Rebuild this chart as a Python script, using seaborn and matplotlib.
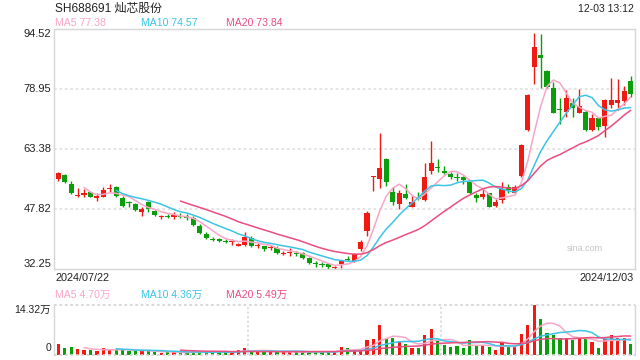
import numpy as np
import pandas as pd
import matplotlib
matplotlib.use("Agg")
import matplotlib.pyplot as plt
import seaborn as sns

# daily candles SH688691, 2024/07/22 .. 2024/12/03
opens = [55.59, 56.71, 54.45, 51.18, 51.60, 52.22, 50.82, 51.08, 53.09, 53.52,
         50.74, 49.53, 49.18, 47.18, 49.62, 47.44, 45.81, 46.00, 45.90, 46.10,
         46.00, 45.60, 43.50, 41.40, 40.20, 40.20, 39.70, 39.25, 38.30, 38.55,
         40.40, 38.20, 38.30, 37.70, 37.90, 36.30, 36.40, 36.50, 36.35, 35.20,
         33.90, 33.50, 33.50, 32.70, 33.60, 34.80, 34.50, 37.60, 42.10, 56.30,
         55.60, 60.78, 52.30, 49.10, 51.80, 48.50, 50.74, 50.22, 57.67, 58.90,
         57.70, 57.05, 56.10, 56.30, 54.97, 51.60, 51.08, 51.96, 48.66, 50.22,
         53.50, 51.96, 56.53, 68.39, 84.81, 87.85, 83.62, 79.20, 73.90, 73.13,
         75.30, 72.87, 73.00, 68.40, 71.40, 69.50, 74.87, 75.47, 75.90, 81.10]
highs = [57.56, 56.89, 55.07, 53.26, 53.00, 52.40, 52.10, 53.50, 54.37, 53.80,
         51.26, 49.96, 49.50, 48.48, 50.00, 47.60, 46.30, 46.50, 47.20, 46.90,
         46.50, 46.00, 43.90, 41.80, 40.70, 40.50, 40.00, 40.00, 39.20, 41.80,
         40.90, 39.20, 38.40, 38.50, 38.20, 37.00, 37.70, 37.00, 36.70, 35.40,
         34.50, 34.10, 33.80, 33.20, 34.70, 35.80, 36.50, 39.85, 47.30, 56.50,
         67.50, 61.20, 53.67, 52.80, 54.40, 51.26, 52.20, 59.74, 65.53, 60.86,
         59.10, 57.60, 57.15, 56.45, 55.23, 52.10, 53.00, 52.10, 50.40, 54.90,
         54.37, 54.10, 64.83, 77.80, 93.48, 93.30, 83.96, 80.76, 76.60, 78.76,
         76.60, 78.95, 73.60, 72.50, 71.68, 76.43, 81.80, 81.62, 79.80, 82.40]
lows = [55.23, 54.71, 51.77, 51.10, 51.08, 50.90, 49.88, 50.92, 52.37, 51.10,
        48.48, 48.48, 47.40, 45.99, 47.10, 46.20, 45.40, 45.60, 45.20, 45.50,
        45.10, 43.40, 41.40, 40.10, 39.50, 39.30, 39.10, 38.50, 38.20, 38.30,
        38.10, 37.90, 37.10, 37.20, 36.30, 36.00, 35.80, 35.80, 35.00, 33.50,
        32.90, 32.90, 32.40, 32.20, 32.60, 34.30, 34.10, 37.06, 40.96, 52.60,
        53.40, 53.86, 48.90, 47.90, 50.40, 48.50, 50.20, 50.04, 56.90, 57.40,
        57.05, 55.67, 55.20, 54.45, 51.78, 49.78, 50.56, 48.30, 48.48, 49.50,
        52.10, 51.70, 56.27, 68.20, 80.32, 79.20, 79.20, 72.72, 69.90, 71.68,
        71.80, 72.87, 68.10, 68.10, 68.50, 66.65, 74.00, 73.58, 74.87, 77.00]
closes = [57.15, 54.97, 52.11, 51.34, 51.96, 51.08, 51.34, 52.81, 53.26, 51.34,
          48.74, 49.36, 47.70, 47.88, 47.80, 46.40, 46.07, 45.80, 46.30, 45.70,
          45.60, 43.80, 41.70, 40.40, 39.90, 39.70, 39.40, 39.50, 38.70, 40.60,
          38.35, 38.35, 37.50, 37.90, 36.55, 36.55, 36.55, 36.20, 35.30, 33.80,
          33.50, 33.30, 32.80, 32.90, 34.50, 34.60, 36.30, 39.30, 46.77, 56.50,
          58.50, 54.97, 49.78, 51.96, 50.80, 49.60, 50.50, 56.19, 59.90, 58.60,
          57.30, 56.20, 55.85, 55.40, 51.96, 50.80, 51.78, 48.48, 49.62, 53.07,
          52.80, 53.52, 64.49, 77.47, 89.92, 86.99, 79.62, 72.87, 73.60, 76.61,
          74.00, 74.60, 68.40, 71.40, 69.10, 76.17, 76.09, 76.09, 78.50, 77.73]
# volume, in 万
volumes = [3.15, 2.00, 2.29, 1.72, 1.43, 1.43, 1.15, 2.00, 1.43, 1.43,
           1.63, 1.15, 1.15, 1.15, 1.15, 0.86, 0.57, 0.86, 0.86, 0.57,
           0.57, 0.86, 0.86, 0.86, 1.15, 0.95, 0.86, 0.57, 1.43, 2.00,
           1.15, 1.15, 0.86, 1.15, 0.86, 0.86, 0.86, 0.86, 0.86, 0.86,
           0.86, 0.95, 0.95, 0.95, 2.29, 2.00, 1.43, 1.43, 4.30, 4.58,
           8.59, 4.58, 4.87, 3.81, 3.15, 2.00, 2.00, 5.73, 7.45, 4.01,
           2.86, 2.29, 2.58, 2.00, 4.30, 2.58, 2.58, 2.29, 1.43, 3.72,
           2.29, 2.29, 6.01, 8.59, 14.32, 10.31, 6.30, 5.73, 4.87, 4.87,
           4.30, 4.87, 4.87, 3.72, 2.00, 4.58, 5.73, 4.87, 4.87, 3.15]

price_ticks = [94.52, 78.95, 63.38, 47.82, 32.25]
vol_max = 14.32
start_date, end_date = "2024/07/22", "2024/12/03"
title = "SH688691 灿芯股份"
stamp = "12-03 13:12"
ma_labels = ["MA5 77.38", "MA10 74.57", "MA20 73.84"]
vol_ma_labels = ["MA5 4.70万", "MA10 4.36万", "MA20 5.49万"]

RED, GREEN = "#f01a12", "#0a9e0a"
MA_COLORS = ["#f8a6c6", "#3cc4e6", "#ea4d7f"]
FRAME = "#d6d6d6"
GRID = "#e2e2e2"

sns.set_theme(style="white")
plt.rcParams["font.family"] = ["Liberation Sans", "Noto Sans CJK SC", "DejaVu Sans"]

df = pd.DataFrame({"open": opens, "high": highs, "low": lows,
                   "close": closes, "vol": volumes})
df["idx"] = np.arange(len(df))
df["up"] = df["close"] >= df["open"]
df["color"] = np.where(df["up"], RED, GREEN)
for n in (5, 10, 20):
    df[f"ma{n}"] = df["close"].rolling(n).mean()
    df[f"vma{n}"] = df["vol"].rolling(n).mean()

W, H = 640, 360
fig = plt.figure(figsize=(6.4, 3.6), dpi=100)


def box(l, t, r, b):
    return [l / W, 1 - b / H, (r - l) / W, (b - t) / H]


ax = fig.add_axes(box(54, 29.3, 634.5, 269.3))
axv = fig.add_axes(box(54, 305, 634.5, 355))
xlim = (-0.67, 89.6)

# price panel
ax.vlines(df["idx"], df["low"], df["high"], colors=df["color"], lw=1, zorder=2)
body = (df["close"] - df["open"]).abs().clip(lower=0.26)
ax.bar(df["idx"], body, bottom=df[["open", "close"]].min(axis=1),
       width=0.8, color=df["color"], linewidth=0, zorder=3)
for n, c in zip((5, 10, 20), MA_COLORS):
    sns.lineplot(data=df, x="idx", y=f"ma{n}", ax=ax, color=c, lw=1.1,
                 estimator=None, sort=False, zorder=4)
for v in price_ticks[1:-1]:
    ax.axhline(v, color=GRID, lw=1.3, ls=(0, (1.5, 1.5)), zorder=0)
ax.set_xlim(*xlim)
ax.set_ylim(price_ticks[-1], price_ticks[0])
ax.set_xticks([])
ax.set_yticks([])
ax.set_xlabel("")
ax.set_ylabel("")
for s in ax.spines.values():
    s.set_visible(True)
    s.set_color(FRAME)
    s.set_linewidth(1)

ytr = ax.get_yaxis_transform()
for i, v in enumerate(price_ticks):
    va = "top" if i == 0 else ("bottom" if i == len(price_ticks) - 1 else "center")
    ax.text(-0.005, v, f"{v:.2f}", transform=ytr, ha="right", va=va,
            fontsize=8, color="#222222")
ax.text(0.915, 0.085, "sina.com", transform=ax.transAxes, ha="center",
        va="center", fontsize=6.5, color="#c4c4c4")

# volume panel
axv.bar(df["idx"], df["vol"], width=0.5, color=df["color"], linewidth=0, zorder=2)
for n, c in zip((5, 10, 20), MA_COLORS):
    sns.lineplot(data=df, x="idx", y=f"vma{n}", ax=axv, color=c, lw=1.1,
                 estimator=None, sort=False, zorder=3)
axv.set_xlim(*xlim)
axv.set_ylim(0, vol_max)
axv.set_xticks([])
axv.set_yticks([])
axv.set_xlabel("")
axv.set_ylabel("")
for k in ("left", "right"):
    axv.spines[k].set_color(FRAME)
    axv.spines[k].set_linewidth(1)
for k in ("top", "bottom"):
    axv.spines[k].set_visible(False)
axv.axhline(vol_max, color=FRAME, lw=1.3, ls=(0, (1.5, 1.5)), clip_on=False)
axv.axhline(0, color=FRAME, lw=1.3, ls=(0, (1.5, 1.5)), clip_on=False)
for xv in (29.5, 59.5):
    axv.axvline(xv, color=FRAME, lw=1.1, ls=(0, (1.5, 1.5)), zorder=0)
vtr = axv.get_yaxis_transform()
axv.text(-0.005, vol_max * 0.91, f"{vol_max:.2f}万", transform=vtr, ha="right",
         va="center", fontsize=7.5, color="#222222")
axv.text(-0.005, vol_max * 0.14, "0", transform=vtr, ha="right",
         va="center", fontsize=7.5, color="#222222")

# header, legends and dates
def ftext(x, y, s, **kw):
    fig.text(x / W, 1 - y / H, s, va="center", **kw)


ftext(55, 8.5, title, fontsize=8.6, color="#222222")
ftext(634, 8.5, stamp, fontsize=7.5, color="#222222", ha="right")
for x0, s, c in zip((55, 141, 225.5), ma_labels, MA_COLORS):
    ftext(x0, 23.5, s, fontsize=7.6, color=c)
ftext(55, 278, start_date, fontsize=7.8, color="#222222")
ftext(634, 278, end_date, fontsize=7.8, color="#222222", ha="right")
for x0, s, c in zip((55, 141, 225.5), vol_ma_labels, MA_COLORS):
    ftext(x0, 295, s, fontsize=7.6, color=c)

fig.savefig("out.png", dpi=100)
